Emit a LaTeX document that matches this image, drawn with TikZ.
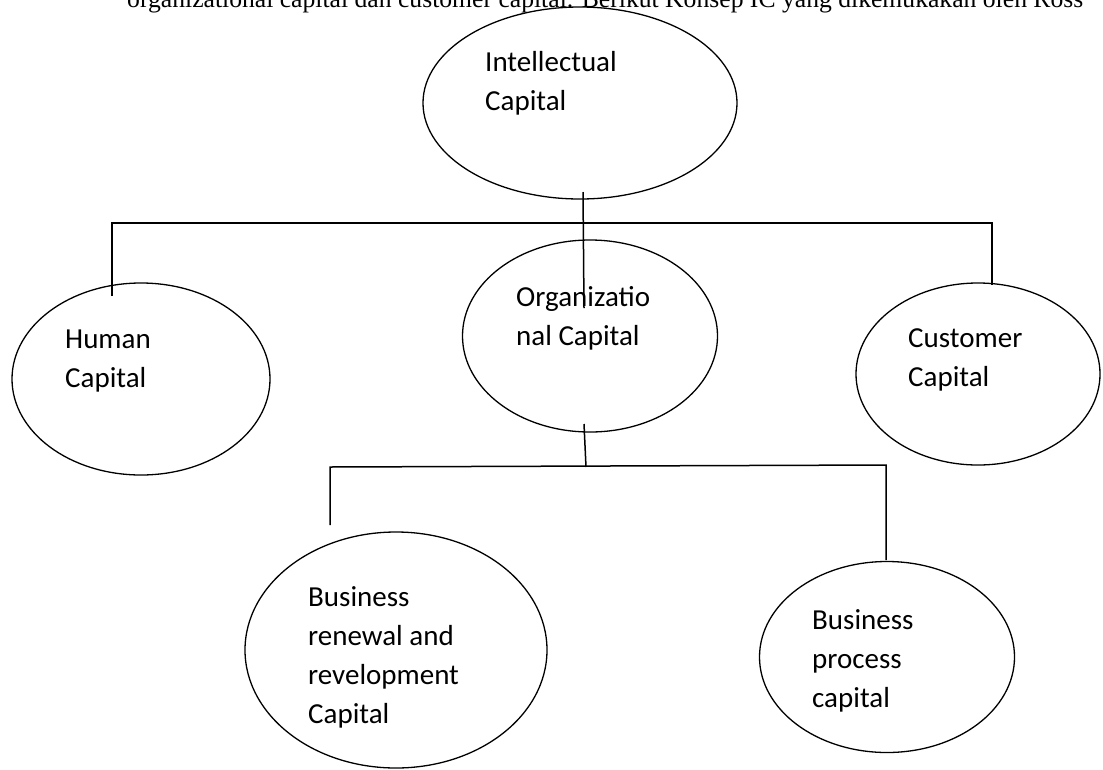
\documentclass[tikz,border=0pt]{standalone}
\usepackage{fontspec}
\setmainfont{Carlito}
\newfontfamily\toptextfont{Liberation Serif}
\usetikzlibrary{shapes.geometric}
\begin{document}
\begin{tikzpicture}[x=1pt,y=-1pt,
  bubble/.style={draw, line width=1.3pt, ellipse, inner sep=0pt},
  lbl/.style={anchor=base west, inner sep=0pt, align=left,
    font=\fontsize{29}{39}\selectfont},
  conn/.style={line width=1.5pt}]
\useasboundingbox (0,0) rectangle (1103,769);
\clip (0,0) rectangle (1103,769);
\fill[white] (0,0) rectangle (1103,769);
% top cropped text line
\node[anchor=base west, inner sep=0pt] (toptext) at (127,7)
  {\resizebox{956pt}{!}{\toptextfont organizational capital dan customer capital. Berikut Konsep IC yang dikemukakan oleh Ross}};
% ellipses
\node[bubble, minimum width=314pt, minimum height=192pt] (ic) at (580,103) {};
\node[bubble, minimum width=258pt, minimum height=192pt] (hc) at (141,379) {};
\node[bubble, minimum width=255pt, minimum height=192pt] (oc) at (590,336) {};
\node[bubble, minimum width=244pt, minimum height=182pt] (cc) at (978,374) {};
\node[bubble, minimum width=302pt, minimum height=236pt] (br) at (396,650) {};
\node[bubble, minimum width=255pt, minimum height=191pt] (bp) at (887,657) {};
% labels (anchor = baseline of last line)
\node[lbl] (icl) at (485,110) {Intellectual\\Capital};
\node[lbl] (hcl) at (65,387) {Human\\Capital};
\node[lbl] (ocl) at (516,345) {Organizatio\\nal Capital};
\node[lbl] (ccl) at (908,386) {Customer\\Capital};
\node[lbl] (brl) at (308,723) {Business\\renewal and\\revelopment\\Capital};
\node[lbl] (bpl) at (812,707) {Business\\process\\capital};
% junction coordinates
\coordinate (t1) at (583,192);
\coordinate (t2) at (584,308);
\coordinate (bl) at (112,223);
\coordinate (br1) at (992,223);
\coordinate (hcTop) at (112,296);
\coordinate (ccTop) at (992,285);
\coordinate (o1) at (584,424);
\coordinate (o2) at (586,467);
\coordinate (bl2) at (330,467);
\coordinate (br2) at (886,465);
\coordinate (brTop) at (330,525);
\coordinate (bpTop) at (886,560);
% connectors
\draw[conn] (t1) -- (t2);
\draw[conn] (hcTop) -- (bl) -- (br1) -- (ccTop);
\draw[conn] (o1) -- (o2);
\draw[conn] (brTop) -- (bl2) -- (br2) -- (bpTop);
\end{tikzpicture}
\end{document}
